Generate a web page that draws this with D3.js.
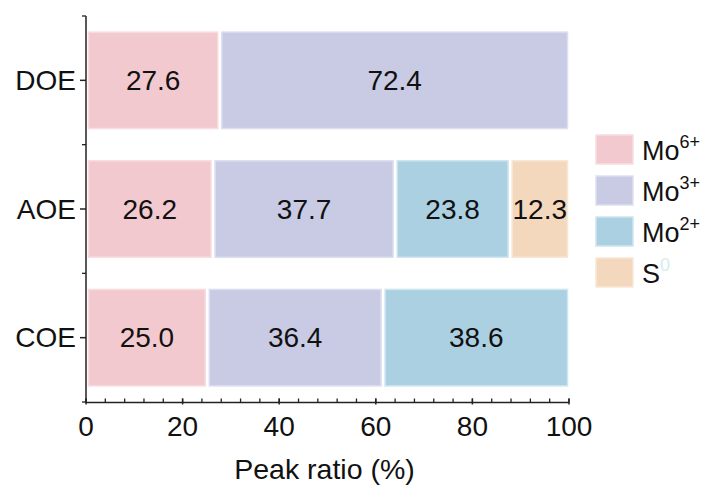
<!DOCTYPE html>
<html><head><meta charset="utf-8">
<script src="https://cdn.jsdelivr.net/npm/d3@7"></script>
<style>body{margin:0;background:#fff;} svg{display:block;font-family:"Liberation Sans",Arial,sans-serif;}</style>
</head><body>
<script>
const categories = ["DOE", "AOE", "COE"];
const seriesNames = ["Mo6+", "Mo3+", "Mo2+", "S0"];
const seriesBase = ["Mo", "Mo", "Mo", "S"];
const seriesSup = ["6+", "3+", "2+", "0"];
const mo6 = [27.6, 26.2, 25.0];
const mo3 = [72.4, 37.7, 36.4];
const mo2 = [0, 23.8, 38.6];
const s0 = [0, 12.3, 0];
const xTicks = [0, 20, 40, 60, 80, 100];
const colors = ["#f3c9d0", "#c8cbe3", "#abd0e2", "#f3d8be"];
const borders = ["#f8dde1", "#dddff0", "#cfe5f0", "#f9e7d6"];

const W = 710, H = 486;
const svg = d3.select("body").append("svg").attr("width", W).attr("height", H);
const x = d3.scaleLinear().domain([0, 100]).range([86, 569]);
const y = d3.scaleBand().domain(categories).range([16, 402]).paddingInner(0.25).paddingOuter(0.125);

const seriesVals = [mo6, mo3, mo2, s0];
const rows = categories.map((c, i) => {
  const r = {cat: c};
  seriesNames.forEach((s, j) => r[s] = seriesVals[j][i]);
  return r;
});
const stacked = d3.stack().keys(seriesNames)(rows);

stacked.forEach((layer, j) => {
  const g = svg.append("g");
  layer.forEach(d => {
    const v = d[1] - d[0];
    if (v <= 0) return;
    const x0 = x(d[0]), x1 = x(d[1]);
    g.append("rect")
      .attr("x", x0 + 2.5).attr("y", y(d.data.cat))
      .attr("width", x1 - x0 - 4).attr("height", y.bandwidth())
      .attr("fill", colors[j]).attr("stroke", borders[j]).attr("stroke-width", 1.5);
    g.append("text")
      .attr("x", (x0 + x1) / 2 + 0.5).attr("y", y(d.data.cat) + y.bandwidth() / 2)
      .attr("dy", "0.35em").attr("text-anchor", "middle")
      .attr("font-size", 28).attr("fill", "#111")
      .text(v.toFixed(1));
  });
});

// x axis
const xg = svg.append("g").attr("transform", "translate(0,402.5)");
xg.append("line").attr("x1", x(0)).attr("x2", x(100)).attr("stroke", "#222").attr("stroke-width", 1.5);
d3.range(0, 101, 4).forEach(t => {
  xg.append("line").attr("x1", x(t)).attr("x2", x(t)).attr("y1", 0).attr("y2", -4)
    .attr("stroke", "#222").attr("stroke-width", 1.3);
});
xTicks.forEach(t => {
  xg.append("line").attr("x1", x(t)).attr("x2", x(t)).attr("y1", 2).attr("y2", -4)
    .attr("stroke", "#222").attr("stroke-width", 1.5);
  xg.append("text").attr("x", x(t)).attr("y", 33).attr("text-anchor", "middle")
    .attr("font-size", 28).attr("fill", "#111").text(t);
});
svg.append("text").attr("x", x(50) - 3).attr("y", 479).attr("text-anchor", "middle")
  .attr("font-size", 28.5).attr("fill", "#111").text("Peak ratio (%)");

// y axis
const yg = svg.append("g").attr("transform", "translate(86,0)");
yg.append("line").attr("y1", 16).attr("y2", 402.5).attr("stroke", "#222").attr("stroke-width", 1.5);
const bounds = [16, 402].concat(categories.slice(1).map(c => y(c) - y.step() * y.paddingInner() / 2));
bounds.forEach(b => {
  yg.append("line").attr("x1", 0).attr("x2", -4).attr("y1", b).attr("y2", b)
    .attr("stroke", "#222").attr("stroke-width", 1.3);
});
categories.forEach(c => {
  const cy = y(c) + y.bandwidth() / 2;
  yg.append("line").attr("x1", 0).attr("x2", -6).attr("y1", cy).attr("y2", cy)
    .attr("stroke", "#222").attr("stroke-width", 1.5);
  yg.append("text").attr("x", -10).attr("y", cy).attr("dy", "0.35em").attr("text-anchor", "end")
    .attr("font-size", 28).attr("fill", "#111").text(c);
});

// legend
const lg = svg.append("g").attr("transform", "translate(596,135)");
seriesNames.forEach((s, j) => {
  const gy = j * 41;
  lg.append("rect").attr("x", 0).attr("y", gy).attr("width", 37).attr("height", 29)
    .attr("fill", colors[j]).attr("stroke", borders[j]).attr("stroke-width", 1.5);
  const t = lg.append("text").attr("x", 46).attr("y", gy + 25).attr("font-size", 27).attr("fill", "#111");
  t.append("tspan").text(seriesBase[j]);
  t.append("tspan").attr("dy", -12).attr("font-size", 18)
    .attr("fill", j === 3 ? "#d6ecee" : "#111").text(seriesSup[j]);
});
</script>
</body></html>
